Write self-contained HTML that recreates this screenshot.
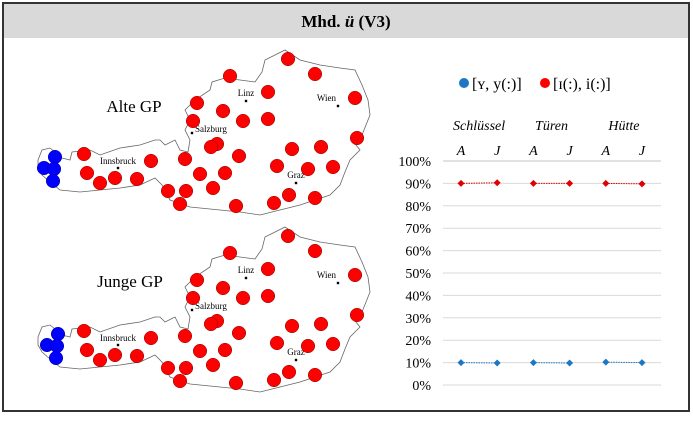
<!DOCTYPE html>
<html><head><meta charset="utf-8"><style>
body{margin:0;width:693px;height:418px;background:#fff;overflow:hidden;font-family:"Liberation Serif",serif}
svg,svg text{font-family:"Liberation Serif","DejaVu Serif",serif}
</style></head><body>
<svg width="693" height="418" viewBox="0 0 693 418" xmlns="http://www.w3.org/2000/svg" font-family="Liberation Serif, serif">
<rect x="3" y="3" width="686" height="408" fill="#fff" stroke="#333" stroke-width="2"/>
<rect x="4" y="4" width="684" height="34" fill="#d9d9d9"/>
<text x="346" y="27" text-anchor="middle" font-size="17" font-weight="bold">Mhd. <tspan font-style="italic">ü</tspan> (V3)</text>
<defs>
<path id="aut" d="M38,160 L42,150 L50,148 L55,152 L62,158 L70,160 L72,152 L90,150 L100,155 L120,148 L140,145 L155,140 L160,140 L165,145 L175,140 L180,150 L188,152 L190,140 L185,130 L190,120 L185,110 L195,100 L210,90 L212,82 L225,78 L240,80 L255,82 L262,72 L265,60 L275,55 L285,50 L300,60 L320,65 L340,68 L355,70 L362,85 L368,100 L370,115 L362,135 L352,140 L360,150 L350,160 L345,172 L340,185 L330,195 L315,200 L300,205 L280,210 L260,215 L240,212 L220,210 L190,207 L170,200 L162,185 L155,178 L140,185 L120,188 L100,190 L80,192 L60,190 L50,182 L42,175 L38,168 Z" fill="#fff" stroke="#666" stroke-width="0.8"/>
</defs>
<g id="maps"></g>
<g id="chart"></g>
</svg>
<script>
const NS="http://www.w3.org/2000/svg";
function mk(p,t,a){const e=document.createElementNS(NS,t);for(const k in a)e.setAttribute(k,a[k]);p.appendChild(e);return e;}
const redDots=[[288,59],[315,74],[230,76],[268,92],[355,98],[197,103],[223,111],[193,121],[243,121],[268,119],[357,138],[217,144],[211,147],[292,149],[321,147],[239,156],[185,159],[151,161],[84,154],[277,166],[308,169],[333,167],[87,173],[200,174],[225,173],[115,178],[137,179],[100,183],[213,188],[168,191],[186,191],[289,195],[315,198],[180,204],[236,206],[274,203]];
const blueDots=[[55,157],[44,168],[54,169],[53,181]];
const cities=[["Linz",246,101,"middle",-5],["Wien",338,106,"end",-5],["Salzburg",192,133,"start",-1],["Innsbruck",118,168,"middle",-4],["Graz",296,183,"middle",-5]];
const maps=document.getElementById('maps');
[["Alte GP",0],["Junge GP",177]].forEach(([lbl,dy],mi)=>{
  const g=mk(maps,'g',{transform:`translate(0,${dy})`});
  
  
  mk(g,'use',{href:'#aut'});
  cities.forEach(c=>{mk(g,'rect',{x:c[1]-1.2,y:c[2]-1.2,width:2.4,height:2.4,fill:'#000'});
    const t=mk(g,'text',{x:c[3]=="end"?c[1]-2:c[3]=="start"?c[1]+3:c[1],y:c[2]+c[4],'font-size':'9','text-anchor':c[3]});t.textContent=c[0];
    });
  const tl=mk(g,'text',{x:mi?130:134,y:mi?110:112,'font-size':'17','text-anchor':'middle'});tl.textContent=lbl;
  
  redDots.forEach(d=>{const c=mk(g,'circle',{cx:d[0],cy:d[1],r:6.8,fill:'#f00',stroke:'#800',"stroke-width":0.5});
    });
  blueDots.forEach(d=>{const c=mk(g,'circle',{cx:d[0]+(mi?3:0),cy:d[1],r:6.8,fill:'#00f',stroke:'#008',"stroke-width":0.5});
    });
});
// chart data
const groups=["Schlüssel","Türen","Hütte"];
const subcats=["A","J","A","J","A","J"];
const redVals=[90,90.3,90,90,90,89.8];
const blueVals=[10,9.8,10,9.8,10.2,10];
const yTicks=[0,10,20,30,40,50,60,70,80,90,100];
const ch=document.getElementById('chart');
const X0=443,X1=661,Y0=385,Y1=161;
const xs=i=>461+i*36.2;
const ys=v=>Y0-(v/100)*(Y0-Y1);
yTicks.forEach(t=>{const l=mk(ch,'line',{x1:X0,x2:X1,y1:ys(t),y2:ys(t),stroke:'#d9d9d9','stroke-width':t==100?1.5:1});
  
  const tx=mk(ch,'text',{x:431,y:ys(t)+5,'font-size':'14','text-anchor':'end'});tx.textContent=t+'%';
  });
subcats.forEach((s,i)=>{const t=mk(ch,'text',{x:xs(i),y:155,'font-size':'14','font-style':'italic','text-anchor':'middle'});t.textContent=s;
  });
groups.forEach((s,i)=>{const t=mk(ch,'text',{x:(xs(2*i)+xs(2*i+1))/2,y:130,'font-size':'14','font-style':'italic','text-anchor':'middle'});t.textContent=s;
  });
[[redVals,'#e00000','red'],[blueVals,'#1f77c4','blue']].forEach(([vals,col,nm])=>{
  for(let gi=0;gi<3;gi++){const l=mk(ch,'line',{x1:xs(2*gi),x2:xs(2*gi+1),y1:ys(vals[2*gi]),y2:ys(vals[2*gi+1]),stroke:col,'stroke-width':1,'stroke-dasharray':'1.5,1'});
    }
  vals.forEach((v,i)=>{const x=xs(i),y=ys(v);const p=mk(ch,'path',{d:`M${x-3.5},${y} L${x},${y-3.5} L${x+3.5},${y} L${x},${y+3.5} Z`,fill:col});
    });
});
// legend
const lg=mk(ch,'g',{});

const c1=mk(lg,'circle',{cx:464,cy:83,r:5,fill:'#1f77c4'});

const t1=mk(lg,'text',{x:472,y:89,'font-size':'16'});t1.textContent='[ʏ, y(:)]';

const c2=mk(lg,'circle',{cx:545,cy:83,r:5,fill:'#f00'});

const t2=mk(lg,'text',{x:553,y:89,'font-size':'16'});t2.textContent='[ɪ(:), i(:)]';

</script>
</body></html>
